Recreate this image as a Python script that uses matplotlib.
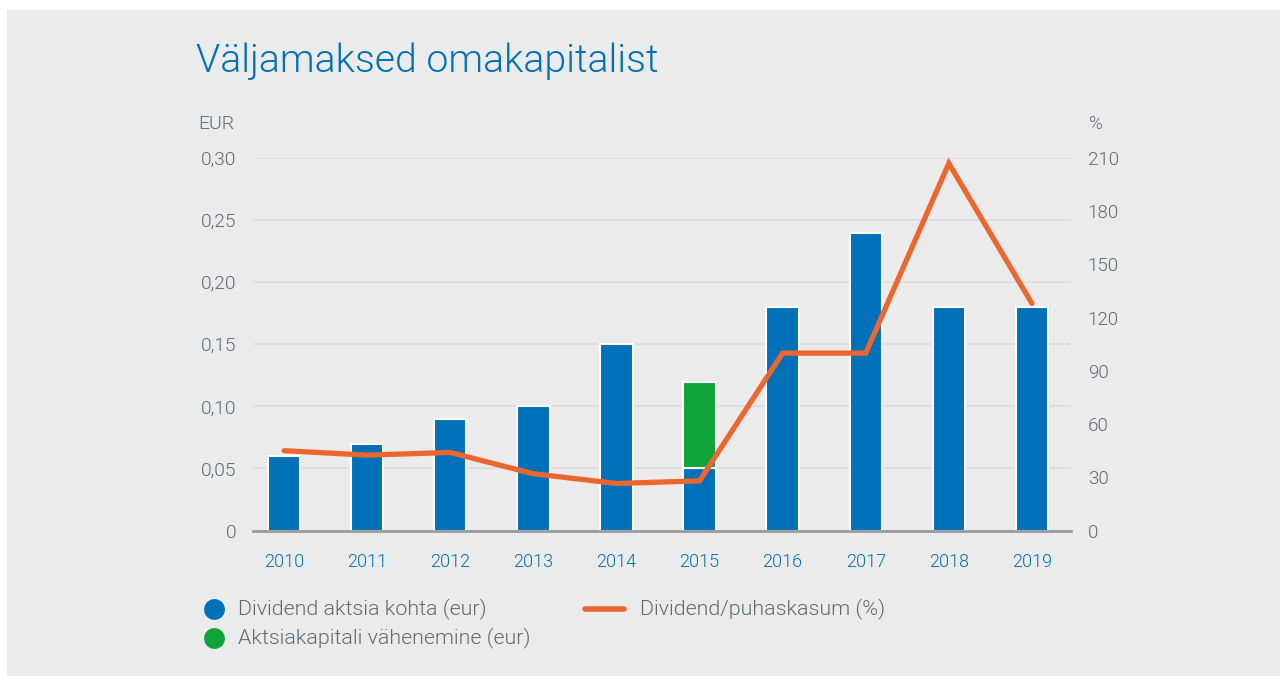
import matplotlib
matplotlib.use("Agg")
import matplotlib.pyplot as plt
from matplotlib.patches import Rectangle
from matplotlib.lines import Line2D

years = ["2010", "2011", "2012", "2013", "2014", "2015", "2016", "2017", "2018", "2019"]
dividend_eur = [0.06, 0.07, 0.09, 0.10, 0.15, 0.05, 0.18, 0.24, 0.18, 0.18]
capital_reduction_eur = [0, 0, 0, 0, 0, 0.07, 0, 0, 0, 0]
payout_pct = [45, 42.5, 44, 32, 26.5, 28, 100, 100, 207, 128]
eur_ticks = [0, 0.05, 0.10, 0.15, 0.20, 0.25, 0.30]
eur_labels = ["0", "0,05", "0,10", "0,15", "0,20", "0,25", "0,30"]
pct_ticks = [0, 30, 60, 90, 120, 150, 180, 210]

BLUE = "#0070b9"
GREEN = "#10a33a"
ORANGE = "#ec6630"
GREY_TXT = "#5d6b75"
BG = "#ebebeb"
FONT = "Roboto"

plt.rcParams["font.family"] = [FONT, "DejaVu Sans"]
plt.rcParams["font.weight"] = 300

W, H = 1286, 683
fig = plt.figure(figsize=(W / 100, H / 100), dpi=100)
fig.patch.set_facecolor("white")
fig.add_artist(Rectangle((7 / W, 1 - 676 / H), (1280 - 7) / W, (676 - 10) / H,
                         transform=fig.transFigure, facecolor=BG, edgecolor="none", zorder=-10))

x0, x1 = 253, 1071
y0, y1 = 530.5, 158
ax = fig.add_axes([x0 / W, 1 - y0 / H, (x1 - x0) / W, (y0 - y1) / H])
ax.set_facecolor("none")
ax.set_zorder(1)

idx = list(range(len(years)))
bw = 0.39
ax.bar(idx, dividend_eur, width=bw, color=BLUE, edgecolor="white", linewidth=1.5, zorder=3)
green_vals = [v if v > 0 else float("nan") for v in capital_reduction_eur]
ax.bar(idx, green_vals, bottom=dividend_eur, width=bw, color=GREEN, edgecolor="white",
       linewidth=1.5, zorder=3)

ax.set_xlim(-0.373, 9.47)
ax.set_ylim(0, 0.30)
ax.set_yticks(eur_ticks)
ax.set_yticklabels(eur_labels)
ax.set_xticks(idx)
ax.set_xticklabels(years)
ax.tick_params(axis="y", length=0, pad=12, labelsize=13.8, labelcolor=GREY_TXT)
ax.tick_params(axis="x", length=0, pad=16, labelsize=13, labelcolor=BLUE)
for s in ["top", "right", "left"]:
    ax.spines[s].set_visible(False)
ax.spines["bottom"].set_color("#9a9a9a")
ax.spines["bottom"].set_linewidth(2)
ax.spines["bottom"].set_zorder(4)
ax.grid(axis="y", color="#dcdcdc", linewidth=1.2, zorder=0)
ax.set_axisbelow(True)

ax2 = ax.twinx()
ax2.set_ylim(0, 210)
ax2.set_yticks(pct_ticks)
ax2.plot(idx, payout_pct, color=ORANGE, linewidth=3.8, solid_joinstyle="miter",
         solid_capstyle="round", zorder=5, clip_on=False)
ax2.tick_params(axis="y", length=0, pad=12, labelsize=13.5, labelcolor=GREY_TXT)
for s in ["top", "right", "left", "bottom"]:
    ax2.spines[s].set_visible(False)

fig.text(198 / W, 1 - 124 / H, "EUR", fontsize=14, color=GREY_TXT, va="center", ha="left")
fig.text(1089 / W, 1 - 124 / H, "%", fontsize=13.5, color=GREY_TXT, va="center", ha="left")

fig.text(196 / W, 1 - 61 / H, "Väljamaksed omakapitalist", fontsize=28.3, color=BLUE,
         va="center", ha="left", fontweight=300)

# legend
def circ(xp, yp, color):
    fig.add_artist(Line2D([xp / W], [1 - yp / H], marker="o", markersize=15, color=color,
                          markeredgewidth=0, linestyle="none", transform=fig.transFigure))

circ(214, 609, BLUE)
circ(214, 638, GREEN)
fig.add_artist(Line2D([585 / W, 624 / W], [1 - 609 / H, 1 - 609 / H], color=ORANGE,
                      linewidth=4, solid_capstyle="round", transform=fig.transFigure))
fig.text(238 / W, 1 - 609 / H, "Dividend aktsia kohta (eur)", fontsize=15.4, color=GREY_TXT, va="center")
fig.text(238 / W, 1 - 638 / H, "Aktsiakapitali vähenemine (eur)", fontsize=15.4, color=GREY_TXT, va="center")
fig.text(640 / W, 1 - 609 / H, "Dividend/puhaskasum (%)", fontsize=15.4, color=GREY_TXT, va="center")

fig.savefig("out.png", dpi=100, facecolor=fig.get_facecolor())
